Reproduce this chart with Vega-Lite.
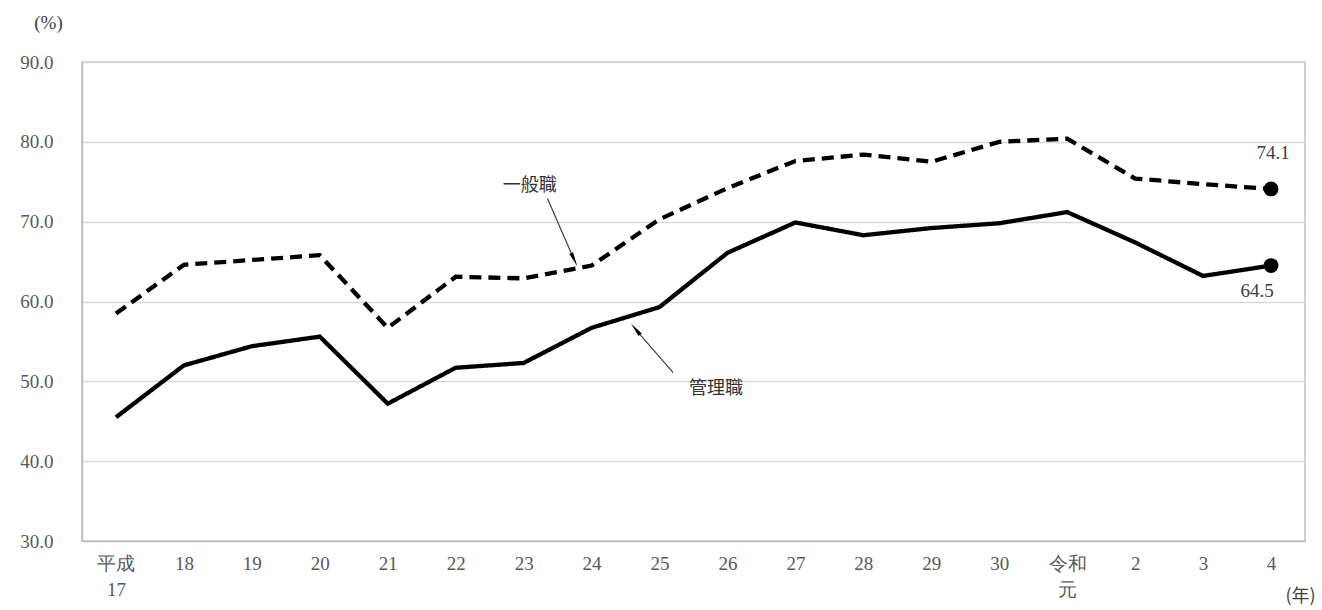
{
  "$schema": "https://vega.github.io/schema/vega-lite/v6.json",
  "width": 1223,
  "height": 479,
  "autosize": {"type": "none"},
  "padding": {"left": 82, "top": 62, "right": 17, "bottom": 69},
  "background": "white",
  "config": {
    "view": {"stroke": "#bfbfbf", "strokeWidth": 1.5},
    "font": "Liberation Serif"
  },
  "datasets": {
    "series": [
      {"idx": 0, "year": "平成17", "category": "一般職", "value": 58.5},
      {"idx": 1, "year": "18", "category": "一般職", "value": 64.6},
      {"idx": 2, "year": "19", "category": "一般職", "value": 65.2},
      {"idx": 3, "year": "20", "category": "一般職", "value": 65.8},
      {"idx": 4, "year": "21", "category": "一般職", "value": 56.7},
      {"idx": 5, "year": "22", "category": "一般職", "value": 63.1},
      {"idx": 6, "year": "23", "category": "一般職", "value": 62.9},
      {"idx": 7, "year": "24", "category": "一般職", "value": 64.5},
      {"idx": 8, "year": "25", "category": "一般職", "value": 70.3},
      {"idx": 9, "year": "26", "category": "一般職", "value": 74.2},
      {"idx": 10, "year": "27", "category": "一般職", "value": 77.6},
      {"idx": 11, "year": "28", "category": "一般職", "value": 78.4},
      {"idx": 12, "year": "29", "category": "一般職", "value": 77.5},
      {"idx": 13, "year": "30", "category": "一般職", "value": 80.0},
      {"idx": 14, "year": "令和元", "category": "一般職", "value": 80.4},
      {"idx": 15, "year": "2", "category": "一般職", "value": 75.4},
      {"idx": 16, "year": "3", "category": "一般職", "value": 74.7},
      {"idx": 17, "year": "4", "category": "一般職", "value": 74.1},
      {"idx": 0, "year": "平成17", "category": "管理職", "value": 45.5},
      {"idx": 1, "year": "18", "category": "管理職", "value": 52.0},
      {"idx": 2, "year": "19", "category": "管理職", "value": 54.4},
      {"idx": 3, "year": "20", "category": "管理職", "value": 55.6},
      {"idx": 4, "year": "21", "category": "管理職", "value": 47.2},
      {"idx": 5, "year": "22", "category": "管理職", "value": 51.7},
      {"idx": 6, "year": "23", "category": "管理職", "value": 52.3},
      {"idx": 7, "year": "24", "category": "管理職", "value": 56.7},
      {"idx": 8, "year": "25", "category": "管理職", "value": 59.3},
      {"idx": 9, "year": "26", "category": "管理職", "value": 66.1},
      {"idx": 10, "year": "27", "category": "管理職", "value": 69.9},
      {"idx": 11, "year": "28", "category": "管理職", "value": 68.3},
      {"idx": 12, "year": "29", "category": "管理職", "value": 69.2},
      {"idx": 13, "year": "30", "category": "管理職", "value": 69.8},
      {"idx": 14, "year": "令和元", "category": "管理職", "value": 71.2},
      {"idx": 15, "year": "2", "category": "管理職", "value": 67.4},
      {"idx": 16, "year": "3", "category": "管理職", "value": 63.2},
      {"idx": 17, "year": "4", "category": "管理職", "value": 64.5}
    ],
    "notes": [
      {"label": "一般職", "tx": 6.09, "ty": 74.5, "x1": 6.35, "y1": 72.9, "x2": 6.73, "y2": 65.5, "angle": 155},
      {"label": "管理職", "tx": 8.83, "ty": 49.1, "x1": 8.2, "y1": 51.1, "x2": 7.67, "y2": 56.3, "angle": 321}
    ]
  },
  "layer": [
    {
      "data": {"name": "series"},
      "mark": {"type": "line", "color": "black", "strokeWidth": 4.3, "strokeCap": "butt", "strokeJoin": "miter"},
      "encoding": {
        "x": {
          "field": "idx", "type": "quantitative",
          "scale": {"domain": [-0.5, 17.5], "nice": false, "zero": false},
          "axis": {
            "values": [0,1,2,3,4,5,6,7,8,9,10,11,12,13,14,15,16,17],
            "labelExpr": "[['平成','17'],'18','19','20','21','22','23','24','25','26','27','28','29','30',['令和','元'],'2','3','4'][datum.value]",
            "grid": false, "ticks": false,
            "domainColor": "#bfbfbf", "domainWidth": 1.5,
            "labelColor": "#595959", "labelFontSize": 19, "labelPadding": 13,
            "labelLineHeight": 26, "labelBaseline": "top",
            "labelFont": "Liberation Serif",
            "title": "(年)", "titleFontSize": 18, "titleFontWeight": "normal",
            "titleColor": "#404040", "titleAnchor": "start", "titleAlign": "center",
            "titleBaseline": "middle", "titleX": 1218, "titleY": 55,
            "titleFont": "Noto Sans CJK JP"
          }
        },
        "y": {
          "field": "value", "type": "quantitative",
          "scale": {"domain": [30, 90], "nice": false, "zero": false},
          "axis": {
            "values": [30, 40, 50, 60, 70, 80, 90],
            "format": ".1f",
            "grid": true, "gridColor": "#d9d9d9", "gridWidth": 1.5,
            "ticks": false, "domainColor": "#bfbfbf", "domainWidth": 1.5,
            "labelColor": "#595959", "labelFontSize": 19, "labelPadding": 29,
            "labelFont": "Liberation Serif",
            "title": "(%)", "titleAngle": 0, "titleFontSize": 19, "titleFontWeight": "normal",
            "titleColor": "#404040", "titleAlign": "center", "titleBaseline": "middle",
            "titleX": -34, "titleY": -40, "titleFont": "Liberation Serif"
          }
        },
        "detail": {"field": "category"},
        "strokeDash": {
          "field": "category", "type": "nominal",
          "scale": {"domain": ["一般職", "管理職"], "range": [[12, 7], [1, 0]]},
          "legend": null
        }
      }
    },
    {
      "data": {"name": "series"},
      "transform": [{"filter": "datum.idx == 17"}],
      "mark": {"type": "point", "filled": true, "color": "black", "opacity": 1, "size": 220},
      "encoding": {
        "x": {"field": "idx", "type": "quantitative"},
        "y": {"field": "value", "type": "quantitative"}
      }
    },
    {
      "data": {"name": "series"},
      "transform": [{"filter": "datum.idx == 17 && datum.category == '一般職'"}],
      "mark": {"type": "text", "dy": -36, "dx": 2, "fontSize": 19, "color": "#404040", "font": "Liberation Serif"},
      "encoding": {
        "x": {"field": "idx", "type": "quantitative"},
        "y": {"field": "value", "type": "quantitative"},
        "text": {"field": "value", "type": "quantitative", "format": ".1f"}
      }
    },
    {
      "data": {"name": "series"},
      "transform": [{"filter": "datum.idx == 17 && datum.category == '管理職'"}],
      "mark": {"type": "text", "dy": 25, "dx": -14, "fontSize": 19, "color": "#404040", "font": "Liberation Serif"},
      "encoding": {
        "x": {"field": "idx", "type": "quantitative"},
        "y": {"field": "value", "type": "quantitative"},
        "text": {"field": "value", "type": "quantitative", "format": ".1f"}
      }
    },
    {
      "data": {"name": "notes"},
      "mark": {"type": "rule", "color": "#404040", "strokeWidth": 1.2},
      "encoding": {
        "x": {"field": "x1", "type": "quantitative"},
        "y": {"field": "y1", "type": "quantitative"},
        "x2": {"field": "x2"},
        "y2": {"field": "y2"}
      }
    },
    {
      "data": {"name": "notes"},
      "mark": {"type": "point", "shape": "wedge", "filled": true, "color": "black", "opacity": 1, "size": 280},
      "encoding": {
        "x": {"field": "x2", "type": "quantitative"},
        "y": {"field": "y2", "type": "quantitative"},
        "angle": {"field": "angle", "type": "quantitative", "scale": null}
      }
    },
    {
      "data": {"name": "notes"},
      "mark": {"type": "text", "fontSize": 18, "color": "#333333", "font": "Noto Sans CJK JP"},
      "encoding": {
        "x": {"field": "tx", "type": "quantitative"},
        "y": {"field": "ty", "type": "quantitative"},
        "text": {"field": "label"}
      }
    }
  ]
}
